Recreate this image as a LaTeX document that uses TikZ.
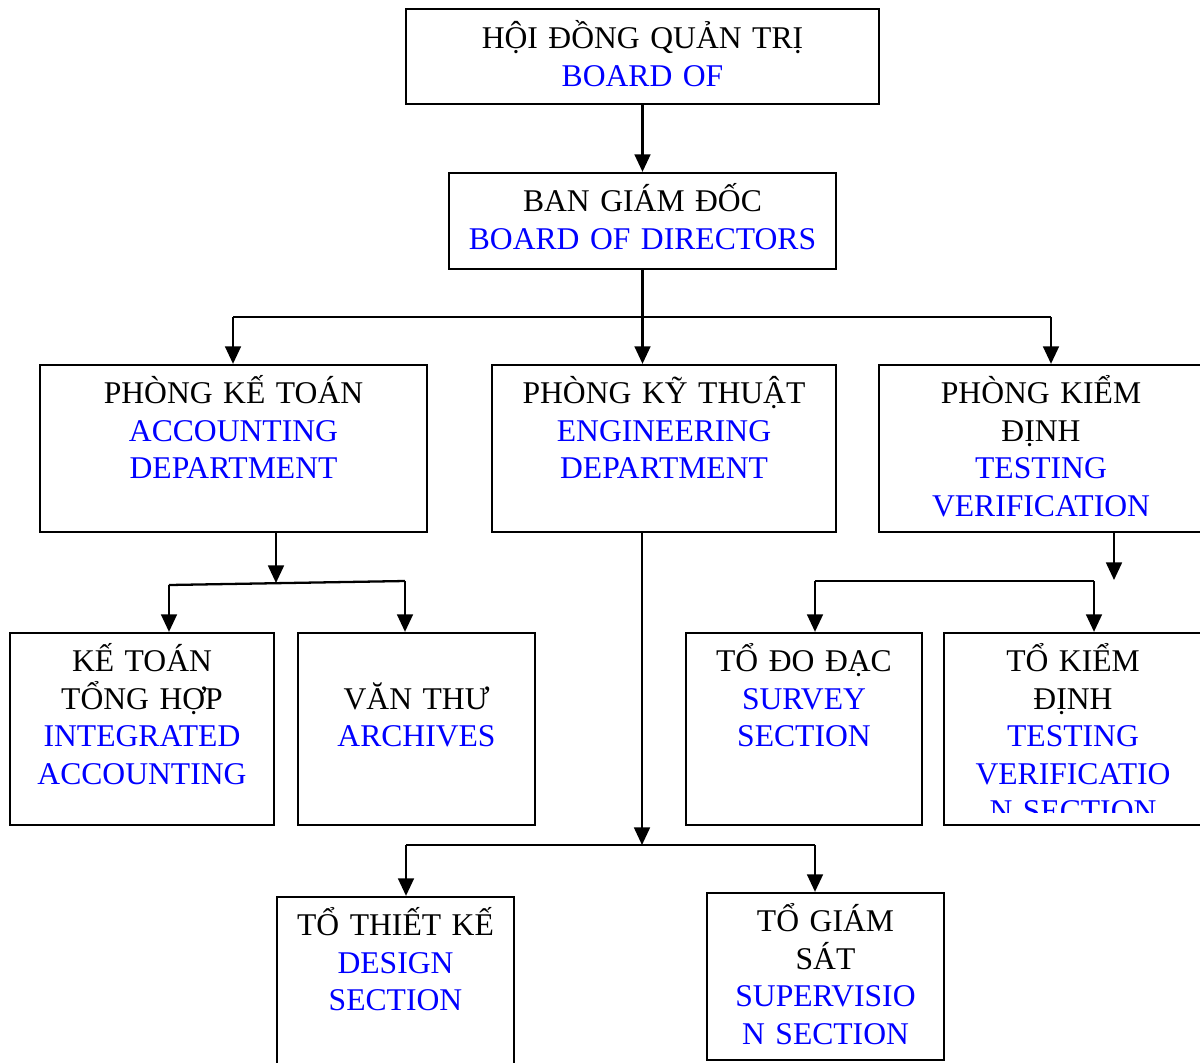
\documentclass[tikz,border=0pt]{standalone}
\usepackage{fontspec}
\setmainfont{Liberation Serif}
\usetikzlibrary{arrows.meta}
\newcommand{\entxt}[1]{\textcolor{blue}{#1}}
\tikzset{
  unit/.style={draw, rectangle, inner sep=0pt},
  txt/.style={font=\fontsize{18}{21.3}\selectfont, align=center, text width=8cm, inner sep=0pt, anchor=base},
}
\begin{document}
\begin{tikzpicture}[x=0.02cm,y=-0.02cm,line width=1.3pt,>={Triangle[length=10pt,width=9pt]}]
\useasboundingbox (0,0) rectangle (1200,1062);

\node[unit, minimum width=9.46cm, minimum height=1.9cm] (hdqt) at (642.5,56.5) {};
\node[unit, minimum width=7.74cm, minimum height=1.92cm] (bgd) at (642.5,221) {};
\node[unit, minimum width=7.74cm, minimum height=3.34cm] (pkt) at (233.5,448.5) {};
\node[unit, minimum width=6.88cm, minimum height=3.34cm] (pkythuat) at (664,448.5) {};
\node[unit, minimum width=6.48cm, minimum height=3.34cm] (pkd) at (1041,448.5) {};
\node[unit, minimum width=5.28cm, minimum height=3.84cm] (ktth) at (142,729) {};
\node[unit, minimum width=4.74cm, minimum height=3.84cm] (vt) at (416.5,729) {};
\node[unit, minimum width=4.72cm, minimum height=3.84cm] (dodac) at (804,729) {};
\node[unit, minimum width=5.16cm, minimum height=3.84cm] (tkd) at (1073,729) {};
\node[unit, minimum width=4.74cm, minimum height=3.56cm] (thietke) at (395.5,986) {};
\node[unit, minimum width=4.74cm, minimum height=3.34cm] (giamsat) at (825.5,976.5) {};

\node[txt] (hdqtT) at ([yshift=-0.82cm]hdqt.north) {HỘI ĐỒNG QUẢN TRỊ\\ \entxt{BOARD OF}};
\node[txt] (bgdT) at ([yshift=-0.8cm]bgd.north) {BAN GIÁM ĐỐC\\ \entxt{BOARD OF DIRECTORS}};
\node[txt] (pktT) at ([yshift=-0.8cm]pkt.north) {PHÒNG KẾ TOÁN\\ \entxt{ACCOUNTING}\\ \entxt{DEPARTMENT}};
\node[txt] (pkythuatT) at ([yshift=-0.8cm]pkythuat.north) {PHÒNG KỸ THUẬT\\ \entxt{ENGINEERING}\\ \entxt{DEPARTMENT}};
\node[txt] (pkdT) at ([yshift=-0.8cm]pkd.north) {PHÒNG KIỂM\\ ĐỊNH\\ \entxt{TESTING}\\ \entxt{VERIFICATION}};
\node[txt] (ktthT) at ([yshift=-0.8cm]ktth.north) {KẾ TOÁN\\ TỔNG HỢP\\ \entxt{INTEGRATED}\\ \entxt{ACCOUNTING}};
\node[txt] (vtT) at ([yshift=-1.55cm]vt.north) {VĂN THƯ\\ \entxt{ARCHIVES}};
\node[txt] (dodacT) at ([yshift=-0.8cm]dodac.north) {TỔ ĐO ĐẠC\\ \entxt{SURVEY}\\ \entxt{SECTION}};
\begin{scope}
\clip (944,633) rectangle (1202,812);
\node[txt] (tkdT) at ([yshift=-0.8cm]tkd.north) {TỔ KIỂM\\ ĐỊNH\\ \entxt{TESTING}\\ \entxt{VERIFICATIO}\\ \entxt{N SECTION}};
\end{scope}
\node[txt] (thietkeT) at ([yshift=-0.8cm]thietke.north) {TỔ THIẾT KẾ\\ \entxt{DESIGN}\\ \entxt{SECTION}};
\node[txt] (giamsatT) at ([yshift=-0.8cm]giamsat.north) {TỔ GIÁM\\ SÁT\\ \entxt{SUPERVISIO}\\ \entxt{N SECTION}};

\coordinate (jL) at (233,317);
\coordinate (jR) at (1051,317);
\coordinate (kM) at (276,583);
\coordinate (kA) at (169,585);
\coordinate (kB) at (405,581);
\coordinate (eM) at (642,845);
\coordinate (eA) at (406,845);
\coordinate (eB) at (815,845);
\coordinate (tM) at (1114,580);
\coordinate (tA) at (815,581);
\coordinate (tB) at (1094,581);

\path[draw,->] (hdqt.south) -- (bgd.north);
\path[draw,->] (bgd.south) -- (bgd.south |- pkythuat.north);
\path[draw] (jL) -- (jR);
\path[draw,->] (jL) -- (jL |- pkt.north);
\path[draw,->] (jR) -- (jR |- pkd.north);

\path[draw,->] (pkt.south -| kM) -- (kM);
\path[draw] (kA) -- (kB);
\path[draw,->] (kA) -- (kA |- ktth.north);
\path[draw,->] (kB) -- (kB |- vt.north);

\path[draw,->] (pkythuat.south -| eM) -- (eM);
\path[draw] (eA) -- (eB);
\path[draw,->] (eA) -- (eA |- thietke.north);
\path[draw,->] (eB) -- (eB |- giamsat.north);

\path[draw,->] (pkd.south -| tM) -- (tM);
\path[draw] (tA) -- (tB);
\path[draw,->] (tA) -- (tA |- dodac.north);
\path[draw,->] (tB) -- (tB |- tkd.north);
\end{tikzpicture}
\end{document}
